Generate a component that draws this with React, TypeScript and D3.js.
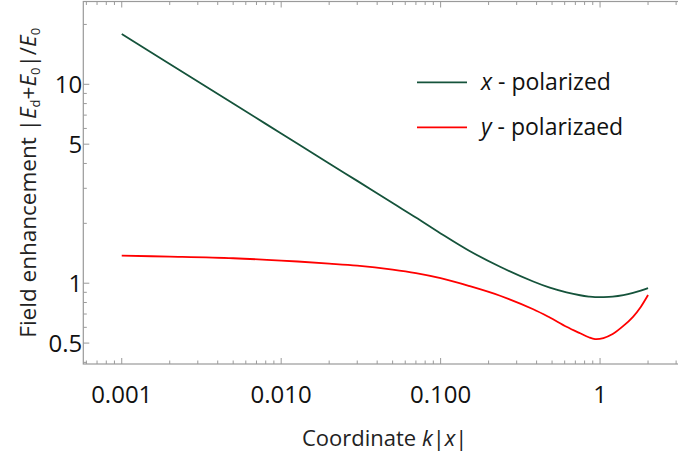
import React from "react";
import * as d3 from "d3";

// Coordinate k|x| sample positions
const kx = [0.001, 0.002, 0.005, 0.01, 0.02, 0.03, 0.05, 0.07, 0.1, 0.15, 0.236, 0.381, 0.484, 0.616, 0.75, 0.85, 0.93, 1.05, 1.2, 1.4, 1.61, 1.8, 2];
// Field enhancement, x-polarized
const xPolarized = [17.9, 12.66, 8.0, 5.66, 4.0, 3.27, 2.53, 2.14, 1.78, 1.46, 1.21, 1.02, 0.95, 0.9, 0.87, 0.857, 0.851, 0.852, 0.857, 0.872, 0.894, 0.918, 0.945];
// Field enhancement, y-polarized
const yPolarized = [1.375, 1.36, 1.335, 1.3, 1.255, 1.225, 1.17, 1.124, 1.06, 0.97, 0.865, 0.74, 0.672, 0.604, 0.56, 0.535, 0.524, 0.53, 0.555, 0.61, 0.678, 0.76, 0.872];

const xMajorTicks = [0.001, 0.01, 0.1, 1];
const xMajorLabels = ["0.001", "0.010", "0.100", "1"];
const yMajorTicks = [0.5, 1, 5, 10];
const yMajorLabels = ["0.5", "1", "5", "10"];

const legendLabels = ["polarized", "polarizaed"];
const legendVars = ["x", "y"];

const W = 678;
const H = 457;
const left = 83.3;
const right = 686;
const top = 1.5;
const bottom = 364;
const FONT = "'Open Sans', 'Noto Sans', sans-serif";
const GREEN = "#15533b";
const RED = "#ff0000";
const AXIS = "#9a9a9a";

function minorTicks(lo: number, hi: number, majors: number[]) {
  const out: number[] = [];
  for (let e = -5; e <= 3; e++) {
    for (let k = 1; k <= 9; k++) {
      const v = k * Math.pow(10, e);
      if (v >= lo && v <= hi && !majors.some((m) => Math.abs(m - v) / v < 1e-6)) out.push(v);
    }
  }
  return out;
}

export default function App() {
  const x = d3.scaleLog().domain([0.000574, 3.46]).range([left, right]);
  const y = d3.scaleLog().domain([0.3925, 26.08]).range([bottom, top]);

  const line = d3
    .line<number>()
    .x((_, i) => x(kx[i]))
    .y((d) => y(d))
    .curve(d3.curveCatmullRom.alpha(0.5));

  const xMinor = minorTicks(0.000574, 3.46, xMajorTicks);
  const yMinor = minorTicks(0.3925, 26.08, yMajorTicks);

  const legendY = [82.3, 127.3];
  const colors = [GREEN, RED];

  return (
    <svg
      width={W}
      height={H}
      style={{ position: "absolute", left: 0, top: 0, background: "#fff" }}
      fontFamily={FONT}
    >
      <defs>
        <clipPath id="plotclip">
          <rect x={left} y={top} width={right - left} height={bottom - top} />
        </clipPath>
      </defs>
      {/* frame */}
      <rect x={left} y={top} width={right - left} height={bottom - top} fill="none" stroke={AXIS} strokeWidth={1.2} />
      {/* x ticks bottom & top */}
      {xMajorTicks.map((t) => (
        <g key={"xM" + t}>
          <line x1={x(t)} x2={x(t)} y1={bottom} y2={bottom - 6} stroke={AXIS} strokeWidth={1} />
          <line x1={x(t)} x2={x(t)} y1={top} y2={top + 6} stroke={AXIS} strokeWidth={1} />
        </g>
      ))}
      {xMinor.map((t) => (
        <g key={"xm" + t}>
          <line x1={x(t)} x2={x(t)} y1={bottom} y2={bottom - 3.5} stroke={AXIS} strokeWidth={1} />
          <line x1={x(t)} x2={x(t)} y1={top} y2={top + 3.5} stroke={AXIS} strokeWidth={1} />
        </g>
      ))}
      {/* y ticks left */}
      {yMajorTicks.map((t) => (
        <line key={"yM" + t} x1={left} x2={left + 6} y1={y(t)} y2={y(t)} stroke={AXIS} strokeWidth={1} />
      ))}
      {yMinor.map((t) => (
        <line key={"ym" + t} x1={left} x2={left + 3.5} y1={y(t)} y2={y(t)} stroke={AXIS} strokeWidth={1} />
      ))}
      {/* tick labels */}
      {xMajorTicks.map((t, i) => (
        <text key={"xl" + t} x={x(t)} y={403} textAnchor="middle" fontSize={24} fill="#111">
          {xMajorLabels[i]}
        </text>
      ))}
      {yMajorTicks.map((t, i) => (
        <text key={"yl" + t} x={left - 1} y={y(t) + 8.6} textAnchor="end" fontSize={24} fill="#111">
          {yMajorLabels[i]}
        </text>
      ))}
      {/* curves */}
      <g clipPath="url(#plotclip)">
        <path d={line(xPolarized) || ""} fill="none" stroke={GREEN} strokeWidth={1.8} />
        <path d={line(yPolarized) || ""} fill="none" stroke={RED} strokeWidth={1.8} />
      </g>
      {/* legend */}
      {legendLabels.map((lab, i) => (
        <g key={"lg" + i}>
          <line x1={417} x2={467} y1={legendY[i]} y2={legendY[i]} stroke={colors[i]} strokeWidth={1.8} />
          <text x={481} y={legendY[i] + 8} fontSize={23} fill="#111">
            <tspan fontStyle="italic">{legendVars[i]}</tspan>
            <tspan>{" - " + lab}</tspan>
          </text>
        </g>
      ))}
      {/* axis titles */}
      <text x={(left + right) / 2} y={446} textAnchor="middle" fontSize={22} fill="#222">
        <tspan>Coordinate </tspan>
        <tspan fontStyle="italic">k</tspan>
        <tspan>|</tspan>
        <tspan fontStyle="italic">x</tspan>
        <tspan>|</tspan>
      </text>
      <text
        transform={`translate(36, ${(top + bottom) / 2}) rotate(-90)`}
        textAnchor="middle"
        fontSize={22.5}
        fill="#222"
      >
        <tspan>Field enhancement |</tspan>
        <tspan fontStyle="italic">E</tspan>
        <tspan fontSize={13} dy={4}>d</tspan>
        <tspan dy={-4}>+</tspan>
        <tspan fontStyle="italic">E</tspan>
        <tspan fontSize={13} dy={4}>0</tspan>
        <tspan dy={-4}>|/</tspan>
        <tspan fontStyle="italic">E</tspan>
        <tspan fontSize={13} dy={4}>0</tspan>
      </text>
    </svg>
  );
}
